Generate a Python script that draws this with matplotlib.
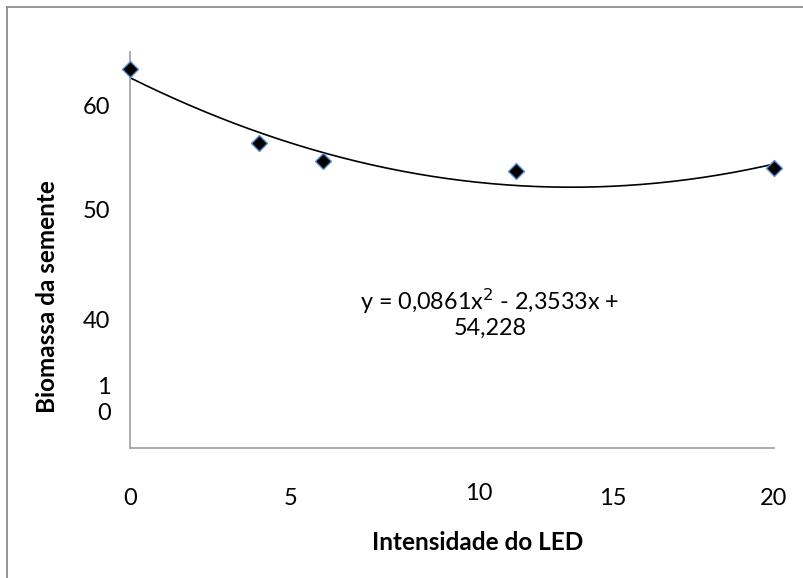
import numpy as np
import matplotlib
matplotlib.use("Agg")
import matplotlib.pyplot as plt
from matplotlib.lines import Line2D

# data
led = [0, 4, 6, 12, 20]
biomassa = [63.46, 56.35, 54.62, 53.65, 53.94]
xtick_vals = [0, 5, 15, 20]
xtick_labels = ["0", "5", "15", "20"]
ytick_vals = [60, 50, 39.4, 32.0]
ytick_labels = ["60", "50", "40", "1\n0"]
equation = "y = 0,0861x$^{2}$ - 2,3533x +\n54,228"

plt.rcParams['font.family'] = ['Lato', 'DejaVu Sans']

fig = plt.figure(figsize=(8.04, 5.78), dpi=100)
ax = fig.add_axes([130/804, 1-447.5/578, (774-130)/804, (447.5-52)/578])

ax.set_xlim(0, 20)
ax.set_ylim(27.07, 65.1)

coef = np.polyfit(led, biomassa, 2)
xs = np.linspace(0, 20, 300)
ax.plot(xs, np.polyval(coef, xs), color='black', lw=1.2, zorder=2)
ax.plot(led, biomassa, linestyle='none', marker='D', markersize=8.5,
        markerfacecolor='black', markeredgecolor='#5b8fd6', markeredgewidth=1.0,
        clip_on=False, zorder=3)

for s in ['top', 'right']:
    ax.spines[s].set_visible(False)
for s in ['left', 'bottom']:
    ax.spines[s].set_color('#a6a6a6')
    ax.spines[s].set_linewidth(1.3)

fs = 17
ax.set_xticks(xtick_vals)
ax.set_xticklabels(xtick_labels, fontsize=fs)
ax.set_yticks(ytick_vals)
ax.set_yticklabels(ytick_labels, fontsize=fs, linespacing=1.3)
ax.tick_params(axis='x', length=0, pad=29)
ax.tick_params(axis='y', length=0, pad=14)
ax.text(10.84, 27.07 - 46/10.4, "10", fontsize=fs, ha='center', va='center',
        transform=ax.transData, clip_on=False)

ax.text(490/804, 1-313/578, equation, transform=fig.transFigure,
        fontsize=16.8, ha='center', va='center', linespacing=1.1)

fig.text(478/804, 1-543/578, "Intensidade do LED", fontsize=17.5,
         fontweight='bold', ha='center', va='center')
fig.text(48/804, 1-297/578, "Biomassa da semente", fontsize=17.5,
         fontweight='bold', ha='center', va='center', rotation=90)

# outer chart border
fig.add_artist(Line2D([7/804, 7/804], [0, 1-7/578], transform=fig.transFigure,
                      color='#8c8c8c', lw=1.3))
fig.add_artist(Line2D([7/804, 1], [1-7/578, 1-7/578], transform=fig.transFigure,
                      color='#8c8c8c', lw=1.3))

fig.savefig("out.png", dpi=100)
